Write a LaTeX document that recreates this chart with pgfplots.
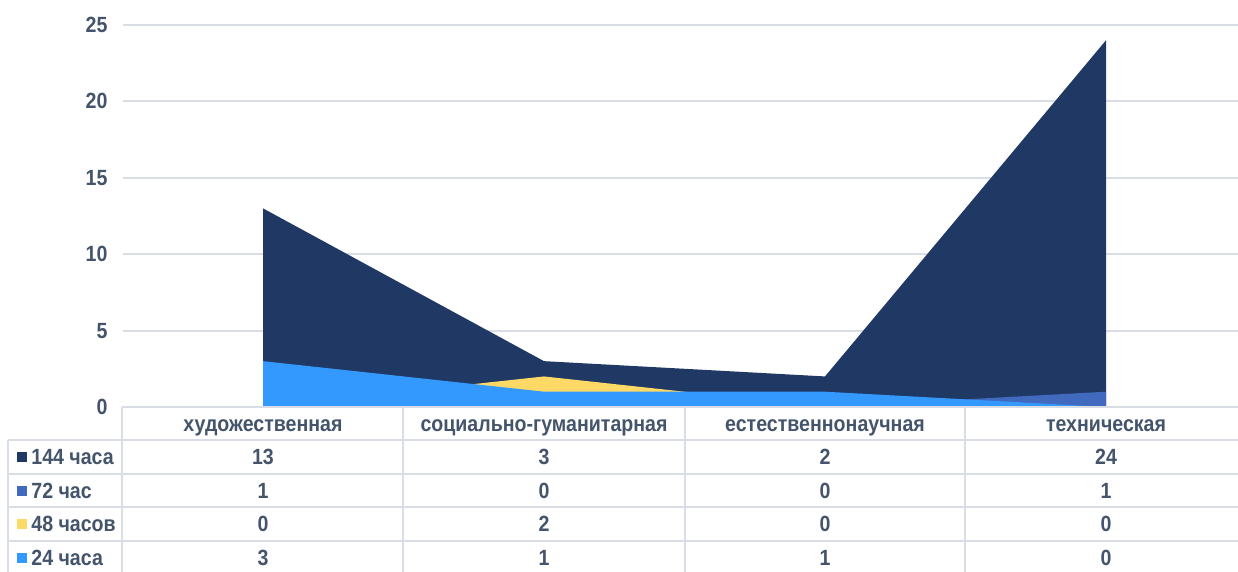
\documentclass[border=0pt]{standalone}
\usepackage{fontspec}
\setmainfont{Liberation Sans}[FakeStretch=0.89]
\usepackage{pgfplots}
\pgfplotsset{compat=1.18}
\definecolor{txt}{HTML}{44546A}
\definecolor{gridc}{HTML}{D9DEE6}
\definecolor{c144}{HTML}{203864}
\definecolor{c72}{HTML}{4169BE}
\definecolor{c48}{HTML}{FFD966}
\definecolor{c24}{HTML}{3399FF}
\newcommand{\tf}{\fontsize{11}{13}\selectfont\bfseries\color{txt}}
\begin{document}
\begin{tikzpicture}[x=0.5pt,y=0.5pt]
\clip (0,0) rectangle (1238,572);
\begin{axis}[at={(61.25pt,82.5pt)}, anchor=south west, scale only axis,
  width=562pt, height=191pt,
  xmin=-0.5, xmax=3.5, ymin=0, ymax=25,
  axis line style={draw=none}, xtick=\empty,
  ytick={0,5,10,15,20,25}, ymajorgrids,
  grid style={gridc, line width=1pt},
  major tick length=0pt,
  /pgf/number format/assume math mode=true,
  yticklabel style={font=\tf, xshift=-4pt},
  clip=false]
\addplot[fill=c144, draw=none] coordinates {(0,13) (1,3) (2,2) (3,24)} \closedcycle;
\addplot[fill=c72, draw=none] coordinates {(0,1) (1,0) (2,0) (3,1)} \closedcycle;
\addplot[fill=c48, draw=none] coordinates {(0,0) (1,2) (2,0) (3,0)} \closedcycle;
\addplot[fill=c24, draw=none] coordinates {(0,3) (1,1) (2,1) (3,0)} \closedcycle;
\end{axis}
\begin{scope}[gridc, line width=1pt]
\draw (122,165) -- (1238,165);
\foreach \y in {132,98,65,31} \draw (8,\y) -- (1238,\y);
\draw (8,132) -- (8,0);
\foreach \x in {122,403,685,965} \draw (\x,165) -- (\x,0);
\end{scope}
\foreach \x/\t in {263/художественная,544/социально-гуманитарная,825/естественнонаучная,1106/техническая}
  \node[font=\tf, anchor=base] at (\x,140) {\t};
\foreach \y/\c/\t/\a/\b/\cc/\d in {115/c144/144 часа/13/3/2/24, 81/c72/72 час/1/0/0/1, 48/c48/48 часов/0/2/0/0, 14/c24/24 часа/3/1/1/0}{
  \fill[\c] (17,\y-5) rectangle (27,\y+5);
  \node[font=\tf, anchor=west, inner sep=0pt] at (31,\y) {\t};
  \node[font=\tf] at (263,\y) {\a};
  \node[font=\tf] at (544,\y) {\b};
  \node[font=\tf] at (825,\y) {\cc};
  \node[font=\tf] at (1106,\y) {\d};
}
\end{tikzpicture}
\end{document}
